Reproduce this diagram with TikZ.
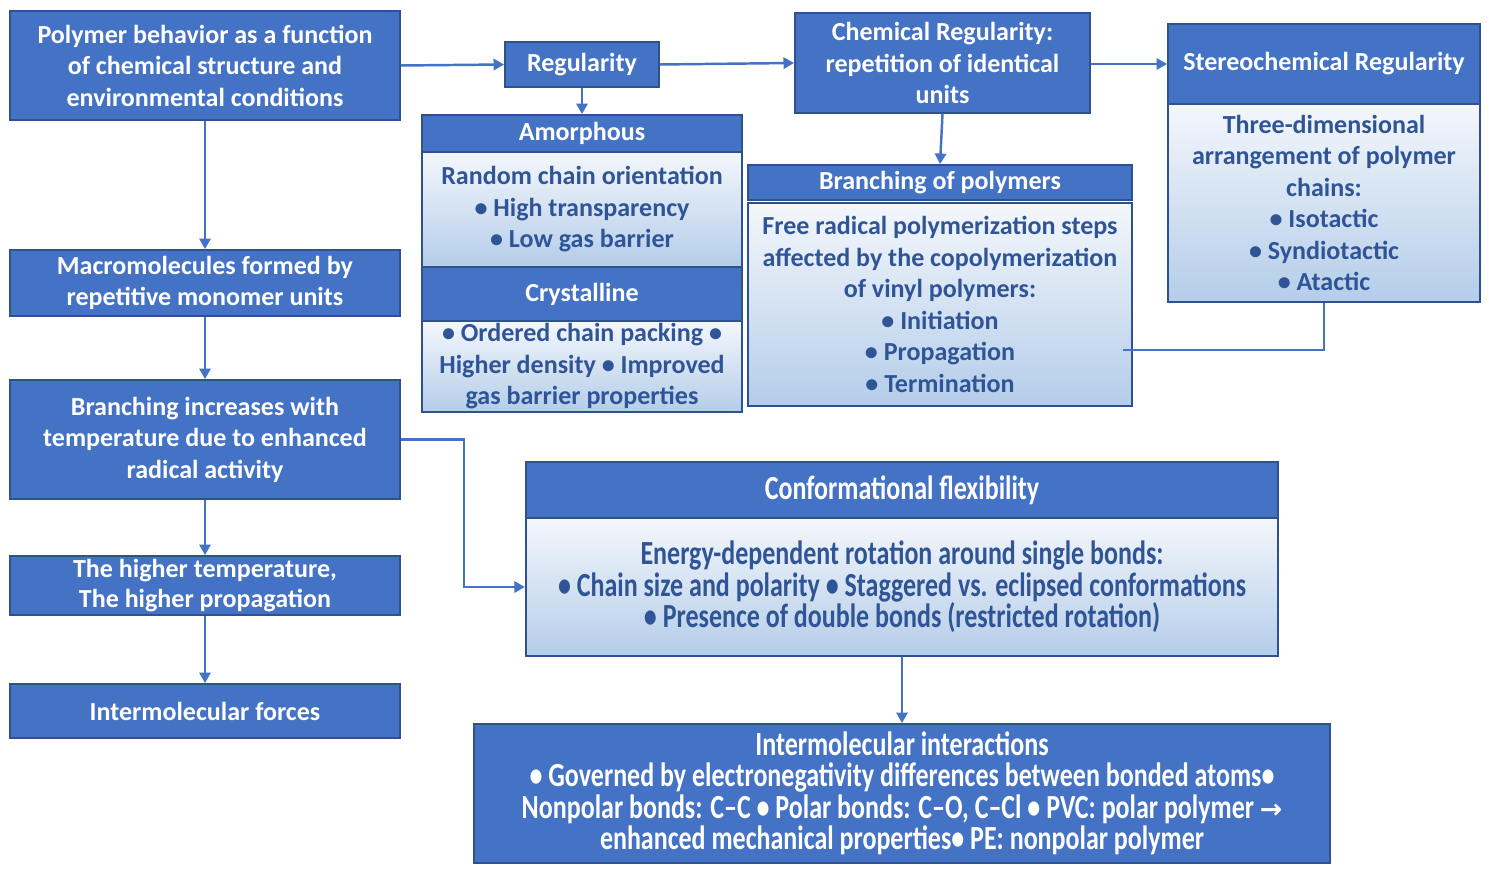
\documentclass[tikz,border=0pt]{standalone}
\usepackage{fontspec}
\setmainfont{Carlito}
\newfontfamily\condfont[FakeStretch=0.77]{Carlito}
\newfontfamily\arrowfont{DejaVu Sans}
\usetikzlibrary{arrows.meta,positioning}
\definecolor{boxblue}{HTML}{4472C4}
\definecolor{boxline}{HTML}{2F528F}
\definecolor{bodytext}{HTML}{2F5597}
\definecolor{shadetop}{HTML}{F4F7FC}
\definecolor{shadebot}{HTML}{B4CDE9}

\begin{document}
\begin{tikzpicture}[
  x=0.01cm, y=-0.01cm,
  font=\fontsize{7.4}{8.95}\selectfont\bfseries,
  headbox/.style={draw=boxline,fill=boxblue,text=white,align=center,inner sep=0pt,line width=0.5pt},
  bodybox/.style={draw=boxline,top color=shadetop,bottom color=shadebot,text=bodytext,align=center,inner sep=0pt,line width=0.5pt},
  narrow/.style={font=\fontsize{9.6}{8.95}\condfont\bfseries},
  ]
  \tikzset{%
    flow/.style={
      draw=boxblue,
      line width=0.7pt,
      -{Triangle[length=3pt,width=3.2pt]},
    },
    plainflow/.style={draw=boxblue,line width=0.7pt},
  }
  \useasboundingbox (0,0) rectangle (1489,877);
  %Nodes
  \node[headbox,minimum width=3.9cm,minimum height=1.09cm](poly) at (205,65.5)
    {Polymer behavior as a function\\of chemical structure and\\environmental conditions};
  \node[headbox,minimum width=1.54cm,minimum height=0.45cm](reg) at (582,64.5) {Regularity};
  \node[headbox,minimum width=2.95cm,minimum height=1.0cm](chem) at (942.5,63)
    {Chemical Regularity:\\repetition of identical\\units};
  \node[headbox,minimum width=3.12cm,minimum height=0.8cm](stereohead) at (1324,64) {Stereochemical Regularity};
  \node[bodybox,minimum width=3.12cm,minimum height=1.98cm](stereobody) at (1324,203)
    {Three-dimensional\\arrangement of polymer\\chains:\\• Isotactic\\• Syndiotactic\\• Atactic};
  \node[headbox,minimum width=3.2cm,minimum height=0.37cm](amorhead) at (582,133.5) {Amorphous};
  \node[bodybox,minimum width=3.2cm,minimum height=1.15cm](amorbody) at (582,209.5)
    {Random chain orientation\\• High transparency\\• Low gas barrier};
  \node[headbox,minimum width=3.2cm,minimum height=0.54cm](cryshead) at (582,294) {Crystalline};
  \node[bodybox,minimum width=3.2cm,minimum height=0.91cm](crysbody) at (582,366.5)
    {• Ordered chain packing •\\Higher density • Improved\\gas barrier properties};
  \node[headbox,minimum width=3.84cm,minimum height=0.35cm](brhead) at (940,182.5) {Branching of polymers};
  \node[bodybox,minimum width=3.84cm,minimum height=2.03cm](brbody) at (940,304.5)
    {Free radical polymerization steps\\affected by the copolymerization\\of vinyl polymers:\\• Initiation\\• Propagation\\• Termination};
  \node[headbox,minimum width=3.9cm,minimum height=0.66cm](macro) at (205,283)
    {Macromolecules formed by\\repetitive monomer units};
  \node[headbox,minimum width=3.9cm,minimum height=1.19cm](brinc) at (205,439.5)
    {Branching increases with\\temperature due to enhanced\\radical activity};
  \node[headbox,minimum width=3.9cm,minimum height=0.59cm,font=\fontsize{7.4}{8.5}\selectfont\bfseries](hight) at (205,585.5)
    {The higher temperature,\\The higher propagation};
  \node[headbox,minimum width=3.9cm,minimum height=0.54cm](interf) at (205,711) {Intermolecular forces};
  \node[headbox,narrow,minimum width=7.52cm,minimum height=0.56cm](confhead) at (902,490)
    {Conformational flexibility};
  \node[bodybox,narrow,minimum width=7.52cm,minimum height=1.38cm](confbody) at (902,587)
    {Energy-dependent rotation around single bonds:\\• Chain size and polarity • Staggered vs. eclipsed conformations\\• Presence of double bonds (restricted rotation)};
  \node[headbox,narrow,minimum width=8.56cm,minimum height=1.39cm](interi) at (902,793.5)
    {Intermolecular interactions\\• Governed by electronegativity differences between bonded atoms•\\Nonpolar bonds: C–C • Polar bonds: C–O, C–Cl • PVC: polar polymer {\arrowfont\bfseries\fontsize{7.6}{8.95}\selectfont →}\\enhanced mechanical properties• PE: nonpolar polymer};
  \coordinate (brend) at (1123,350);
  %Lines
  \draw[flow] (poly.east) -- (reg.west);
  \draw[flow] (reg.east) -- (chem.west);
  \draw[flow] (chem.east |- stereohead.west) -- (stereohead.west);
  \draw[flow] (reg.south) -- (amorhead.north);
  \draw[flow] (chem.south) -- (brhead.north);
  \draw[plainflow] (stereobody.south) |- (brend);
  \draw[flow] (poly.south) -- (macro.north);
  \draw[flow] (macro.south) -- (brinc.north);
  \draw[flow] (brinc.south) -- (hight.north);
  \draw[flow] (hight.south) -- (interf.north);
  \draw[flow] (brinc.east) -- ++(63,0) |- (confbody.west);
  \draw[flow] (confbody.south) -- (interi.north);
\end{tikzpicture}
\end{document}
